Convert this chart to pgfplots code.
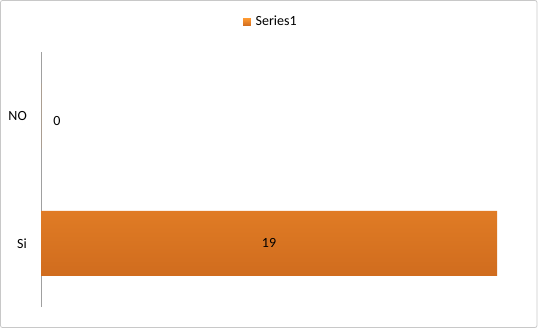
\documentclass[border=0pt]{standalone}
\usepackage{pgfplots}
\pgfplotsset{compat=1.18}
\usepackage{fontspec}
\setmainfont{Carlito}
\definecolor{barTop}{RGB}{255,154,50}
\definecolor{barBot}{RGB}{208,108,30}
\definecolor{barLeg}{RGB}{238,130,40}
\definecolor{frameGray}{RGB}{200,200,200}
\definecolor{axisGray}{RGB}{160,160,160}
\begin{document}
\begin{tikzpicture}[x=1bp,y=1bp,font=\fontsize{14bp}{17bp}\selectfont]
\path[use as bounding box] (0,0) rectangle (543,331);
\draw[frameGray, line width=0.8bp, rounded corners=2bp] (0.5,3.5) rectangle (537,330.5);
\begin{axis}[
  at={(41bp,24bp)}, anchor=south west,
  width=480bp, height=255bp, scale only axis,
  xmin=0, xmax=20, ymin=-0.5, ymax=1.5,
  hide x axis,
  axis y line*=left,
  y axis line style={-, draw=axisGray, line width=1bp},
  ytick={0,1}, yticklabels={Si,NO},
  ytick style={draw=none}, major tick length=0pt,
  yticklabel style={inner sep=0pt, xshift=-14bp, text=black},
  /pgf/number format/assume math mode=true,
  legend style={at={(0.479,1.118)}, anchor=center, draw=none, fill=none,
    font=\fontsize{14bp}{17bp}\selectfont,
    /tikz/every odd column/.append style={column sep=3bp}},
  legend image code/.code={\fill[barLeg] (0bp,-3.8bp) rectangle (7.6bp,3.8bp);},
  clip=false,
]
\addplot[xbar, bar width=65bp, draw=none, top color=barTop, bottom color=barBot] coordinates {(19,0) (0,1)};
\addlegendentry{Series1}
\addplot[draw=none, mark=none, forget plot, nodes near coords, point meta=explicit symbolic,
  every node near coord/.style={anchor=center, text=black}] coordinates {(9.5,0) [19] (0.667,0.96) [0]};
\end{axis}
\end{tikzpicture}
\end{document}
